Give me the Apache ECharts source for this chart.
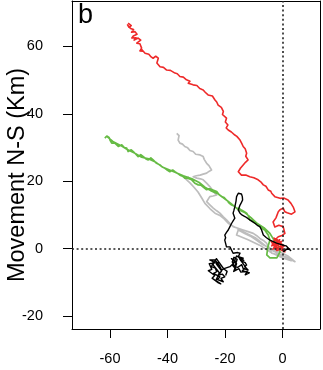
<!DOCTYPE html>
<html>
<head>
<meta charset="utf-8">
<script src="https://cdn.jsdelivr.net/npm/echarts@6/dist/echarts.min.js"></script>
<style>
html,body{margin:0;padding:0;background:#fff;}
#chart{width:323px;height:370px;}
</style>
</head>
<body>
<div id="chart"></div>
<script>
const xTicks = [-60, -40, -20, 0];
const yTicks = [-20, 0, 20, 40, 60];
const yTitle = 'Movement N-S (Km)';
const panelLabel = 'b';

const redTrack = [[-53.7,66.9],[-52.6,66.2],[-53.4,65.7],[-53.9,66.4],[-52.8,65.3],[-51.8,65.0],[-52.5,64.2],[-51.3,64.4],[-50.6,63.6],[-51.9,63.1],[-52.4,62.5],[-50.9,62.6],[-51.6,61.9],[-50.2,62.5],[-49.3,61.9],[-50.7,61.0],[-49.6,60.8],[-50.1,60.3],[-49.0,59.5],[-49.6,58.7],[-48.6,58.6],[-49.2,59.3],[-47.8,58.0],[-46.5,57.7],[-45.7,56.9],[-45.0,56.5],[-44.1,57.1],[-43.2,56.5],[-43.7,55.1],[-42.6,54.0],[-41.4,53.8],[-42.0,53.3],[-40.3,53.0],[-39.0,52.9],[-38.4,52.4],[-37.4,52.1],[-36.6,51.9],[-35.7,51.1],[-34.5,50.9],[-33.4,50.1],[-32.2,49.7],[-32.8,49.1],[-31.1,48.6],[-29.8,48.4],[-28.8,47.5],[-27.6,47.1],[-26.9,46.4],[-25.9,45.6],[-24.4,45.3],[-23.5,44.1],[-22.9,43.5],[-22.4,42.6],[-21.3,41.9],[-20.6,40.7],[-20.9,39.8],[-19.5,38.7],[-19.9,37.6],[-19.0,36.7],[-19.6,35.8],[-18.9,35.2],[-17.8,34.6],[-16.6,33.7],[-15.9,33.3],[-14.8,32.2],[-14.2,31.2],[-13.7,30.3],[-13.0,29.6],[-12.5,28.3],[-12.8,27.4],[-12.0,26.3],[-12.9,25.6],[-13.7,24.8],[-14.6,23.9],[-15.4,22.8],[-14.3,21.8],[-12.8,21.8],[-11.4,21.3],[-10.0,21.0],[-8.5,20.4],[-7.6,19.8],[-6.7,18.9],[-5.8,18.5],[-5.0,17.4],[-4.1,17.0],[-3.8,16.4],[-2.7,15.4],[-0.9,14.9],[0.4,15.0],[1.9,14.4],[2.9,13.4],[3.7,12.3],[4.3,10.9],[3.1,10.2],[1.6,10.6],[0.8,10.9],[0.2,12.0],[-0.9,11.5],[-1.5,10.9],[-2.3,9.1],[-3.3,7.9],[-2.7,6.4],[-1.3,6.9],[0.2,6.5],[0.8,4.5],[-0.2,3.9],[-1.5,3.5],[-3.3,2.0],[-2.1,0.5],[-0.4,-0.5],[0.8,-1.0],[-0.9,1.3],[-3.0,3.1],[-1.8,2.4],[0.5,0.7],[-1.2,-0.3],[-3.6,1.2],[-2.4,2.9],[-0.6,1.8],[-3.8,0.8],[-1.0,2.6],[-3.4,-0.2],[-0.3,2.1],[-2.8,1.6],[0.6,-0.4],[-4.0,2.2],[-2.0,-0.6],[0,0]];

const greenTrack = [[-61.8,32.8],[-61.1,33.4],[-60.3,33.0],[-60.0,32.2],[-59.4,31.3],[-58.3,31.3],[-57.1,30.3],[-55.9,30.8],[-55.0,30.0],[-54.2,29.8],[-53.7,28.8],[-52.6,29.3],[-51.9,28.8],[-51.0,28.0],[-50.2,27.3],[-49.3,27.9],[-48.4,27.3],[-47.5,26.6],[-46.7,26.3],[-45.8,26.9],[-45.0,26.3],[-43.8,25.3],[-42.6,24.8],[-41.8,24.2],[-40.9,23.8],[-40.0,23.2],[-39.2,22.8],[-38.2,23.3],[-37.4,22.8],[-36.5,22.3],[-35.7,21.8],[-34.8,21.5],[-34.0,20.9],[-32.8,20.8],[-31.6,20.4],[-30.5,19.4],[-29.3,18.9],[-28.4,18.8],[-27.7,18.3],[-26.5,17.5],[-25.3,17.7],[-24.0,17.3],[-22.9,16.9],[-22.1,16.0],[-21.2,15.4],[-20.3,15.1],[-19.5,14.4],[-18.6,13.5],[-17.7,12.9],[-16.9,12.6],[-16.0,12.0],[-15.1,11.9],[-14.3,11.4],[-13.4,11.0],[-12.5,10.5],[-11.8,9.5],[-11.4,8.5],[-10.5,8.2],[-9.6,7.5],[-8.7,7.2],[-7.9,6.5],[-7.0,5.9],[-6.2,5.5],[-5.5,4.6],[-5.0,4.0],[-4.4,2.5],[-5.1,0.5],[-5.5,-1.9],[-4.4,-2.8],[-2.0,-2.8],[-0.9,-1.0],[-1.6,1.3],[-3.2,2.8],[-4.5,4.6],[-6.5,6.2],[-8.8,7.4],[-11.0,9.2],[-13.0,10.6],[-15.5,11.6],[-18.0,13.4],[-20.0,14.7],[-22.5,16.3],[-25.0,17.2],[-27.0,18.2],[-29.0,19.6],[-31.5,20.7],[-34.5,21.6],[-37.0,22.5],[-39.5,23.4],[-42.0,24.3],[-44.0,25.6],[-46.5,26.6],[-49.0,27.1],[-51.5,28.4],[-54.0,29.4],[-56.5,30.7],[-59.0,31.8],[-61.0,33.2]];

const grayTrack = [[-36.8,34.2],[-36.0,33.5],[-36.3,32.2],[-35.7,31.3],[-34.8,31.0],[-34.0,30.3],[-33.0,29.9],[-32.2,29.1],[-31.1,28.8],[-30.2,28.0],[-28.7,27.8],[-27.6,27.3],[-27.2,26.4],[-26.4,25.3],[-25.6,24.6],[-24.7,23.3],[-25.6,22.9],[-26.4,22.4],[-27.6,22.1],[-28.7,21.8],[-30.0,21.6],[-31.1,21.3],[-29.8,20.9],[-28.6,20.7],[-27.6,20.4],[-26.5,19.5],[-25.3,18.4],[-24.6,17.6],[-24.1,16.9],[-22.9,15.9],[-24.2,15.6],[-25.3,15.4],[-26.4,13.9],[-25.2,12.9],[-24.1,12.0],[-22.9,11.2],[-21.8,10.5],[-20.6,9.4],[-19.5,8.5],[-18.3,7.4],[-17.2,6.5],[-15.5,6.0],[-13.7,5.5],[-12.0,5.0],[-10.2,4.5],[-9.0,3.8],[-7.9,3.0],[-6.7,2.4],[-5.6,1.6],[-4.6,0.2],[-3.8,-1.4],[-1.5,-1.9],[0.8,-2.4],[2.5,-3.1],[4.3,-3.9],[1.8,-2.2],[-0.5,-1.2],[-2.7,-0.5],[-5.0,0.4],[-7.2,1.3],[-9.0,2.4],[-10.8,3.5],[-13.0,4.4],[-15.4,5.5],[-16.0,4.0],[-12.0,2.6],[-8.0,1.0],[-4.0,-1.2],[0.0,-2.8],[3.0,-3.6],[-0.2,-2.0],[-4.5,-0.2],[-9.5,3.2],[-13.5,4.9],[-17.2,6.6],[-18.9,7.5],[-20.3,8.8],[-21.6,9.7],[-23.5,10.5],[-25.2,11.8],[-27.0,13.4],[-28.1,15.0],[-29.4,16.8],[-30.8,18.2],[-32.2,19.5],[-34.0,20.9],[-32.5,21.2]];

const blackTrack = [[0.2,-1.0],[1.9,0.1],[2.8,-0.6],[1.2,0.8],[0.2,1.0],[-2.1,1.6],[-4.4,2.5],[-5.6,3.2],[-6.7,4.0],[-7.3,5.5],[-7.9,6.5],[-8.8,6.9],[-9.6,7.5],[-10.5,8.0],[-11.4,8.5],[-12.2,9.0],[-13.1,9.5],[-14.0,9.9],[-14.8,10.5],[-15.4,11.4],[-15.1,12.2],[-14.8,12.9],[-14.3,13.7],[-13.9,14.4],[-14.0,15.4],[-14.3,16.2],[-15.4,16.4],[-16.0,15.9],[-16.0,15.4],[-16.2,14.0],[-16.6,12.4],[-16.9,11.4],[-17.2,10.5],[-16.6,9.0],[-17.2,8.2],[-17.7,7.5],[-18.3,6.5],[-18.9,5.5],[-19.5,4.8],[-20.1,4.0],[-19.8,3.2],[-20.1,2.5],[-19.5,0.5],[-18.3,0.5],[-17.7,0.1],[-17.2,-1.4],[-16.6,-1.9],[-15.6,-1.2],[-14.8,-1.4],[-15.4,-2.4],[-13.7,-2.9],[-14.6,-3.6],[-13.0,-4.2],[-12.5,-4.9],[-13.2,-5.3],[-12.0,-6.4],[-13.7,-5.9],[-14.2,-4.8],[-14.8,-4.4],[-15.6,-5.6],[-16.6,-5.4],[-15.8,-3.2],[-16.9,-2.6],[-17.5,-4.0],[-16.2,-6.2],[-17.4,-5.0],[-16.0,-2.2],[-13.5,-3.5],[-15.0,-3.0],[-12.8,-5.6],[-14.0,-6.6],[-11.6,-7.2],[-13.0,-7.8],[-12.3,-6.8],[-14.5,-7.0],[-15.2,-6.0],[-17.0,-6.8],[-16.0,-4.5],[-17.8,-3.0],[-16.3,-3.8],[-18.3,-5.4],[-20.1,-5.9],[-21.2,-6.4],[-22.0,-5.0],[-23.5,-3.4],[-25.3,-3.4],[-24.1,-3.9],[-24.7,-5.4],[-23.4,-5.8],[-22.9,-6.9],[-24.0,-7.4],[-21.8,-8.4],[-22.6,-9.2],[-20.6,-9.9],[-21.4,-8.9],[-20.1,-8.4],[-21.0,-7.6],[-22.2,-7.9],[-21.2,-6.6],[-23.0,-4.6],[-22.1,-4.1],[-25.5,-4.5],[-24.6,-6.2],[-25.8,-6.6],[-23.6,-8.0],[-24.5,-8.8],[-22.3,-10.2],[-21.5,-10.5],[-23.2,-9.5],[-22.0,-7.2],[-24.2,-4.8],[-23.0,-3.0],[-20.5,-6.0],[-19.3,-6.8],[-19.8,-8.0]];

const chart = echarts.init(document.getElementById('chart'), null, {renderer: 'canvas'});
const FONT = 'Liberation Sans, Arial, sans-serif';
const XMIN = -73.2, XMAX = 13.0, YMIN = -23.9, YMAX = 73.5;

function track(data, color, z, w) {
  return {
    type: 'line', data: data, showSymbol: false, symbol: 'none', smooth: false,
    z: z, clip: true, silent: true, animation: false, xAxisIndex: 0, yAxisIndex: 0,
    lineStyle: {color: color, width: w, join: 'round'}
  };
}

const frameAxis = {
  type: 'value', axisLine: {show: true, onZero: false, lineStyle: {color: '#000', width: 1}},
  axisTick: {show: false}, axisLabel: {show: false}, splitLine: {show: false}
};

const option = {
  animation: false,
  backgroundColor: '#fff',
  grid: {left: 72, right: 3, top: 1, bottom: 41},
  xAxis: [{
    type: 'value', min: XMIN, max: XMAX, position: 'bottom',
    axisLine: {show: true, onZero: false, lineStyle: {color: '#000', width: 1}},
    axisTick: {show: true, inside: false, length: 9, lineStyle: {color: '#000', width: 1}, customValues: xTicks},
    axisLabel: {show: true, color: '#000', fontSize: 14.5, fontFamily: FONT, margin: 22, customValues: xTicks},
    splitLine: {show: false}
  }, Object.assign({}, frameAxis, {min: XMIN, max: XMAX, position: 'top'})],
  yAxis: [{
    type: 'value', min: YMIN, max: YMAX, position: 'left',
    axisLine: {show: true, onZero: false, lineStyle: {color: '#000', width: 1}},
    axisTick: {show: true, inside: false, length: 9, lineStyle: {color: '#000', width: 1}, customValues: yTicks},
    axisLabel: {show: true, color: '#000', fontSize: 14.5, fontFamily: FONT, margin: 29, customValues: yTicks},
    splitLine: {show: false}
  }, Object.assign({}, frameAxis, {min: YMIN, max: YMAX, position: 'right'})],
  graphic: [{
    type: 'text', left: 78, top: 2, z: 100,
    style: {text: panelLabel, fill: '#000', font: '27px ' + FONT}
  }, {
    type: 'text', x: 18, y: 175, rotation: Math.PI / 2, z: 100,
    style: {text: yTitle, fill: '#000', font: '23.5px ' + FONT, align: 'center', verticalAlign: 'middle'}
  }],
  series: [
    {
      type: 'line', data: [], silent: true, z: 1,
      markLine: {
        silent: true, symbol: 'none', animation: false,
        label: {show: false},
        lineStyle: {color: '#222', type: [2, 2.6], width: 1.6},
        data: [{xAxis: 0}, {yAxis: 0}]
      }
    },
    track(grayTrack, '#bdbdbd', 2, 1.7),
    track(greenTrack, '#66bb44', 3, 1.7),
    track(redTrack, '#ee2a2a', 4, 1.6),
    track(blackTrack, '#000000', 5, 1.4)
  ]
};
chart.setOption(option);
</script>
</body>
</html>
